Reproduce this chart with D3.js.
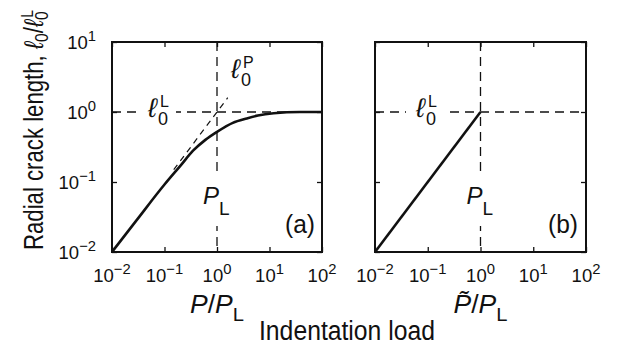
<!DOCTYPE html>
<html>
<head>
<meta charset="utf-8">
<script src="https://cdn.jsdelivr.net/npm/d3@7"></script>
<style>
  body { margin: 0; background: #fff; }
  svg { display: block; }
  text { font-family: "Liberation Sans", "DejaVu Sans", sans-serif; fill: #111; }
</style>
</head>
<body>
<svg id="chart" width="617" height="354"></svg>
<script>
// Decade ticks
const loadTicks = [1e-2, 1e-1, 1e0, 1e1, 1e2];
const crackTicks = [1e-2, 1e-1, 1e0, 1e1];

// Panel (a): normalised crack length vs normalised load
const loadA  = [0.01, 0.03, 0.1, 0.2, 0.35, 0.6, 1, 2, 3.7, 6, 12, 38, 100];
const crackA = [0.01, 0.029, 0.092, 0.17, 0.28, 0.40, 0.52, 0.70, 0.81, 0.89, 0.96, 1.0, 1.0];

// Small-load asymptote l0^P (crack length proportional to load)
const asymLoad  = [0.15, 1.6];
const asymCrack = [0.15, 1.6];

// Panel (b): effective load
const loadB  = [0.01, 1];
const crackB = [0.01, 1];

// Reference lines: P = P_L and l0 = l0^L
const refLoad = 1;
const refCrack = 1;

const svg = d3.select("#chart");
const ink = "#111";

const y = d3.scaleLog().domain([1e-2, 1e1]).range([252, 42]);
const xA = d3.scaleLog().domain([1e-2, 1e2]).range([112, 322]);
const xB = d3.scaleLog().domain([1e-2, 1e2]).range([375, 586]);

const pow10 = v => Math.round(Math.log10(v));

function decadeLabel(sel, v, size) {
  sel.append("tspan").text("10");
  sel.append("tspan").attr("dy", -8).attr("font-size", size * 0.8)
     .text(String(pow10(v)).replace("-", "\u2212"));
}

// white backing so dashed lines break around a label
function knockout(g, padX, padY) {
  const b = g.node().getBBox();
  g.insert("rect", ":first-child")
    .attr("x", b.x - padX).attr("y", b.y - padY)
    .attr("width", b.width + 2 * padX).attr("height", b.height + 2 * padY)
    .attr("fill", "#fff");
}

function ell(g, x0, y0, sup, padX) {
  const t = g.append("g");
  t.append("text").attr("x", x0).attr("y", y0).attr("font-size", 27)
   .attr("font-style", "italic").text("\u2113");
  t.append("text").attr("x", x0 + 10).attr("y", y0 + 8).attr("font-size", 18).text("0");
  t.append("text").attr("x", x0 + 12).attr("y", y0 - 10).attr("font-size", 16).text(sup);
  if (padX) knockout(t, padX, 0);
}

function panel(x) {
  const g = svg.append("g");
  const [x0, x1] = x.range();
  const [y0, y1] = y.range();

  // dashed reference lines
  const dash = g.append("g").attr("stroke", ink).attr("stroke-width", 1.3)
                .attr("stroke-dasharray", "9,6").attr("fill", "none");
  dash.append("line").attr("x1", x(refLoad)).attr("x2", x(refLoad)).attr("y1", y1).attr("y2", y0);
  dash.append("line").attr("x1", x0).attr("x2", x1).attr("y1", y(refCrack)).attr("y2", y(refCrack));

  // ticks on all four sides, pointing inward
  const axes = [
    [d3.axisBottom(x).tickValues(loadTicks), `translate(0,${y0})`],
    [d3.axisTop(x).tickValues(loadTicks), `translate(0,${y1})`],
    [d3.axisLeft(y).tickValues(crackTicks), `translate(${x0},0)`],
    [d3.axisRight(y).tickValues(crackTicks), `translate(${x1},0)`]
  ];
  axes.forEach(([ax, tr]) => {
    const a = g.append("g").attr("transform", tr)
      .call(ax.tickSize(-5).tickFormat(""));
    a.select(".domain").remove();
    a.selectAll(".tick line").attr("stroke", ink).attr("stroke-width", 1.3);
  });

  // x tick labels
  g.append("g").selectAll("text").data(loadTicks).join("text")
    .attr("x", d => x(d)).attr("y", 282).attr("text-anchor", "middle")
    .attr("font-size", 18.5)
    .each(function (d) { decadeLabel(d3.select(this), d, 18.5); });

  return g;
}

const gA = panel(xA);
const gB = panel(xB);

// y tick labels (left panel only)
svg.append("g").selectAll("text").data(crackTicks).join("text")
  .attr("x", 96).attr("y", d => y(d) + 6.5).attr("text-anchor", "end")
  .attr("font-size", 18.5)
  .each(function (d) { decadeLabel(d3.select(this), d, 18.5); });

const line = x => d3.line().x(d => x(d[0])).y(d => y(d[1]));

// asymptote
gA.append("path").datum(d3.zip(asymLoad, asymCrack))
  .attr("d", line(xA)).attr("fill", "none").attr("stroke", ink)
  .attr("stroke-width", 1.2).attr("stroke-dasharray", "6,5");

// in-plot labels that interrupt the dashed lines
ell(gA, 148, 117, "L", 7);
ell(gB, 416, 117, "L", 9);

function pl(g, cx) {
  const lg = g.append("g");
  const t = lg.append("text").attr("x", cx - 14).attr("y", 204).attr("font-size", 24);
  t.append("tspan").attr("font-style", "italic").text("P");
  t.append("tspan").attr("dy", 11).attr("font-size", 19).text("L");
  knockout(lg, 2, 7);
}
pl(gA, xA(refLoad));
pl(gB, xB(refLoad));

// response curves
gA.append("path").datum(d3.zip(loadA, crackA))
  .attr("d", line(xA).curve(d3.curveMonotoneX)).attr("fill", "none")
  .attr("stroke", ink).attr("stroke-width", 2.6);
gB.append("path").datum(d3.zip(loadB, crackB))
  .attr("d", line(xB)).attr("fill", "none")
  .attr("stroke", ink).attr("stroke-width", 2.6);

// frames
[xA, xB].forEach(x => {
  const [x0, x1] = x.range();
  const [y0, y1] = y.range();
  svg.append("rect").attr("x", x0).attr("y", y1).attr("width", x1 - x0).attr("height", y0 - y1)
    .attr("fill", "none").attr("stroke", ink).attr("stroke-width", 2);
});

ell(gA, 231, 78, "P", 0);

gA.append("text").attr("x", 300).attr("y", 233).attr("text-anchor", "middle")
  .attr("font-size", 25).attr("textLength", 30).attr("lengthAdjust", "spacingAndGlyphs").text("(a)");
gB.append("text").attr("x", 563).attr("y", 233).attr("text-anchor", "middle")
  .attr("font-size", 25).attr("textLength", 30).attr("lengthAdjust", "spacingAndGlyphs").text("(b)");

// axis titles
function loadTitle(cx, tilde) {
  const t = svg.append("text").attr("x", cx).attr("y", 313).attr("text-anchor", "middle")
    .attr("font-size", 25).attr("textLength", 54).attr("lengthAdjust", "spacingAndGlyphs");
  t.append("tspan").attr("font-style", "italic").text(tilde ? "P\u0303" : "P");
  t.append("tspan").text("/");
  t.append("tspan").attr("font-style", "italic").text("P");
  t.append("tspan").attr("dy", 8).attr("font-size", 19).text("L");
}
loadTitle(xA(refLoad), false);
loadTitle(xB(refLoad), true);

svg.append("text").attr("x", 347).attr("y", 340).attr("text-anchor", "middle")
  .attr("font-size", 27).attr("textLength", 176).attr("lengthAdjust", "spacingAndGlyphs")
  .text("Indentation load");

const yt = svg.append("text")
  .attr("transform", "translate(43,130) rotate(-90)")
  .attr("text-anchor", "middle").attr("font-size", 27)
  .attr("textLength", 240).attr("lengthAdjust", "spacingAndGlyphs");
yt.append("tspan").text("Radial crack length, ");
yt.append("tspan").attr("font-style", "italic").text("\u2113");
yt.append("tspan").attr("dy", 5).attr("font-size", 19).text("0");
yt.append("tspan").attr("dy", -5).text("/");
yt.append("tspan").attr("font-style", "italic").text("\u2113");
yt.append("tspan").attr("dy", 5).attr("font-size", 19).text("0");
yt.append("tspan").attr("dx", -8).attr("dy", -15).attr("font-size", 17).text("L");
</script>
</body>
</html>
